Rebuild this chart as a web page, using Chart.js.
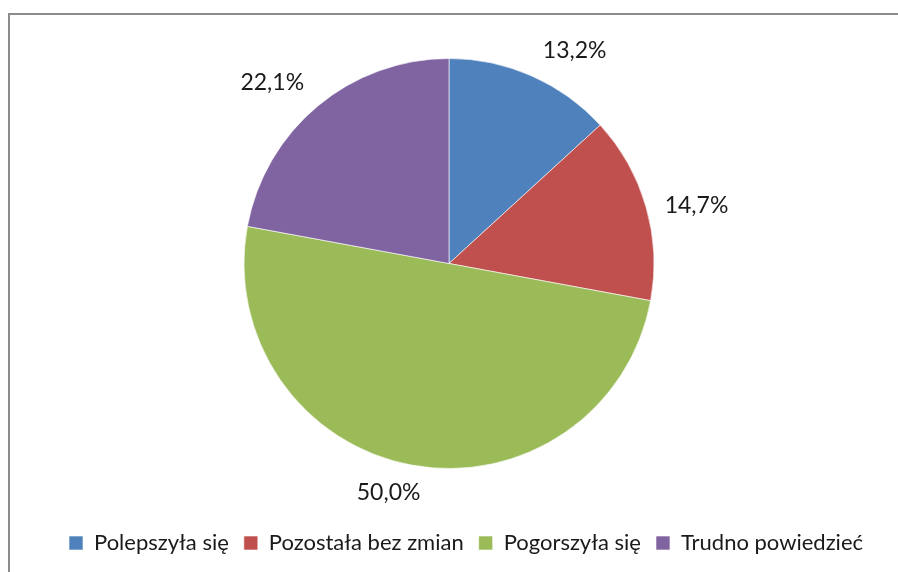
<!DOCTYPE html>
<html>
<head>
<meta charset="utf-8">
<script src="https://cdn.jsdelivr.net/npm/chart.js@4/dist/chart.umd.min.js"></script>
<style>
  body { margin: 0; background: #fff; }
  #wrap { position: relative; width: 898px; height: 572px; overflow: hidden; }
  #frame { position: absolute; left: 8px; top: 13px; width: 1000px; height: 1000px;
           border-left: 2px solid #8c8c8c; border-top: 2px solid #8c8c8c; }
  canvas { position: absolute; left: 0; top: 0; }
</style>
</head>
<body>
<div id="wrap">
  <div id="frame"></div>
  <canvas id="pieChart" width="898" height="572"></canvas>
</div>
<script>
const categories = ["Polepszyła się", "Pozostała bez zmian", "Pogorszyła się", "Trudno powiedzieć"];
const shares = [13.2, 14.7, 50.0, 22.1];
const colors = ["#4F81BD", "#C0504D", "#9BBB59", "#8064A2"];
// small nudges so the labels sit where the original placed them
const labelShift = [[27, 11], [12, 10], [-16, -12], [-20, 7]];

const pctLabels = {
    id: "pctLabels",
    afterDatasetsDraw(chart) {
        const ctx = chart.ctx;
        const arcs = chart.getDatasetMeta(0).data;
        ctx.save();
        ctx.font = "23px Lato";
        ctx.fillStyle = "#1a1a1a";
        ctx.textAlign = "center";
        ctx.textBaseline = "middle";
        arcs.forEach((arc, i) => {
            const mid = (arc.startAngle + arc.endAngle) / 2;
            const r = arc.outerRadius + 40;
            const x = arc.x + Math.cos(mid) * r + labelShift[i][0];
            const y = arc.y + Math.sin(mid) * r + labelShift[i][1];
            ctx.fillText(shares[i].toFixed(1).replace(".", ",") + "%", x, y);
        });
        ctx.restore();
    }
};

// legend in the original sits a bit right of the pie's centre line
const legendShift = {
    id: "legendShift",
    afterLayout(chart) {
        chart.legend.left += 17;
        chart.legend.right += 17;
        chart.legend.top += 2;
        chart.legend.bottom += 2;
    }
};

new Chart(document.getElementById("pieChart").getContext("2d"), {
    type: "pie",
    data: {
        labels: categories,
        datasets: [{
            data: shares,
            backgroundColor: colors,
            borderColor: "rgba(255,255,255,0.6)",
            borderWidth: 1,
            radius: 205
        }]
    },
    options: {
        responsive: false,
        animation: false,
        layout: { padding: { top: 12, bottom: 10, left: 0, right: 0 } },
        plugins: {
            tooltip: { enabled: false },
            legend: {
                position: "bottom",
                labels: {
                    font: { family: "Lato", size: 22 },
                    color: "#1a1a1a",
                    boxWidth: 14,
                    boxHeight: 14,
                    padding: 15
                }
            }
        }
    },
    plugins: [pctLabels, legendShift]
});
</script>
</body>
</html>
